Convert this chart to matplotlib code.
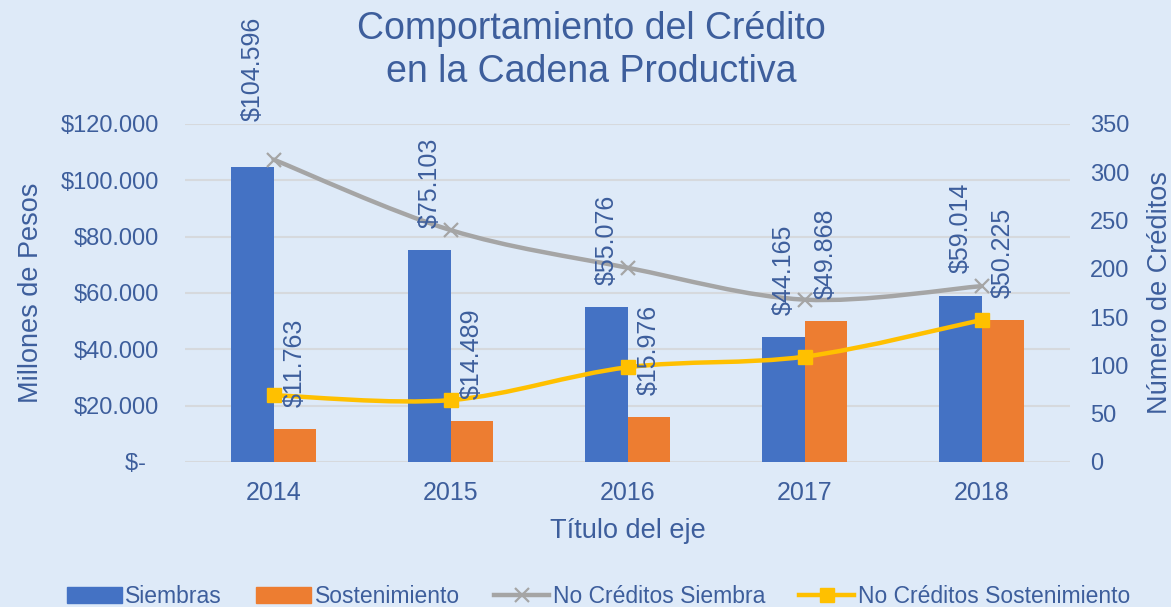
import numpy as np
import matplotlib.pyplot as plt
from matplotlib.path import Path
from matplotlib.patches import PathPatch
from matplotlib.lines import Line2D
from matplotlib.patches import Patch

plt.rcParams['font.family'] = ['Liberation Sans', 'DejaVu Sans']

years = ['2014', '2015', '2016', '2017', '2018']
siembras = [104596, 75103, 55076, 44165, 59014]
sostenimiento = [11763, 14489, 15976, 49868, 50225]
n_siembra = [313, 240, 201, 168, 182]
n_sostenimiento = [69, 64, 98, 109, 147]

BG = '#DEEAF8'
TXT = '#3D5E9C'
BLUE = '#4472C4'
ORANGE = '#ED7D31'
GRAY = '#A5A5A5'
YELLOW = '#FFC000'


def money(v):
    if v == 0:
        return '$-  '
    return '$' + f'{int(v):,}'.replace(',', '.')


def smooth_path(xs, ys):
    # excel style smoothed line: bezier segments through the data points
    pts = np.column_stack([xs, ys]).astype(float)
    n = len(pts)
    verts = [pts[0]]
    codes = [Path.MOVETO]
    for i in range(n - 1):
        p0 = pts[i - 1] if i > 0 else pts[i]
        p1 = pts[i]
        p2 = pts[i + 1]
        p3 = pts[i + 2] if i + 2 < n else pts[i + 1]
        c1 = p1 + (p2 - p0) / 6
        c2 = p2 - (p3 - p1) / 6
        verts += [c1, c2, p2]
        codes += [Path.CURVE4] * 3
    return Path(verts, codes)


fig = plt.figure(figsize=(11.71, 6.07), dpi=100, facecolor=BG)
ax = fig.add_axes([0.158, 0.239, 0.756, 0.557])
ax.set_facecolor(BG)
ax2 = ax.twinx()
ax2.patch.set_visible(False)

x = np.arange(len(years))
w = 0.24
b1 = ax.bar(x - w / 2, siembras, w, color=BLUE, zorder=2)
b2 = ax.bar(x + w / 2, sostenimiento, w, color=ORANGE, zorder=2)

ax.set_xlim(-0.5, 4.5)
ax.set_ylim(0, 120000)
ax.set_yticks(np.arange(0, 120001, 20000))
ax.set_yticklabels([money(v) for v in np.arange(0, 120001, 20000)])
ax.set_xticks(x)
ax.set_xticklabels(years)
ax.grid(axis='y', color='#D6D9DD', linewidth=1.5, zorder=0)
ax.set_axisbelow(True)

ax2.set_ylim(0, 350)
ax2.set_yticks(np.arange(0, 351, 50))

for a in (ax, ax2):
    for s in a.spines.values():
        s.set_visible(False)
    a.tick_params(length=0, labelsize=17, labelcolor=TXT)
ax.tick_params(axis='y', pad=19)
ax.tick_params(axis='x', pad=14, labelsize=18)
ax2.tick_params(axis='y', pad=14)

ax.set_ylabel('Millones de Pesos', fontsize=19.5, color=TXT, labelpad=12)
ax2.set_ylabel('Número de Créditos', fontsize=19.5, color=TXT, labelpad=13)
ax.set_xlabel('Título del eje', fontsize=19.5, color=TXT, labelpad=9)

# smoothed lines
for vals, col in ((n_siembra, GRAY), (n_sostenimiento, YELLOW)):
    ax2.add_patch(PathPatch(smooth_path(x, vals), facecolor='none',
                            edgecolor=col, linewidth=3.2, capstyle='round',
                            zorder=3))
ax2.plot(x, n_siembra, linestyle='none', marker='x', markersize=10,
         markeredgewidth=1.6, color=GRAY, zorder=4)
ax2.plot(x, n_sostenimiento, linestyle='none', marker='s', markersize=10,
         color=YELLOW, zorder=4)

# data labels, drawn on top of the lines
for bars, vals in ((b1, siembras), (b2, sostenimiento)):
    for i, (r, v) in enumerate(zip(bars, vals)):
        off = 16
        if bars is b1 and i == 0:
            off = 33
        ax2.annotate(money(v), (r.get_x() + r.get_width() / 2, v),
                     xycoords=ax.transData, xytext=(0, off),
                     textcoords='offset points', rotation=90,
                     ha='center', va='bottom', fontsize=18, color=TXT,
                     zorder=5)

fig.text(0.505, 0.952, 'Comportamiento del Crédito', ha='center',
         va='center', fontsize=27, color=TXT)
fig.text(0.505, 0.882, 'en la Cadena Productiva', ha='center',
         va='center', fontsize=27, color=TXT)

handles = [
    Patch(color=BLUE, label='Siembras'),
    Patch(color=ORANGE, label='Sostenimiento'),
    Line2D([], [], color=GRAY, lw=3.2, marker='x', markersize=10,
           markeredgewidth=1.6, label='No Créditos Siembra'),
    Line2D([], [], color=YELLOW, lw=3.2, marker='s', markersize=10,
           label='No Créditos Sostenimiento'),
]
fig.legend(handles=handles, loc='lower center', bbox_to_anchor=(0.511, -0.035),
           ncol=4, frameon=False, fontsize=16.5, labelcolor=TXT,
           handlelength=2.4, handletextpad=0.15, columnspacing=1.5)

fig.savefig('out.png', dpi=100, facecolor=BG)
